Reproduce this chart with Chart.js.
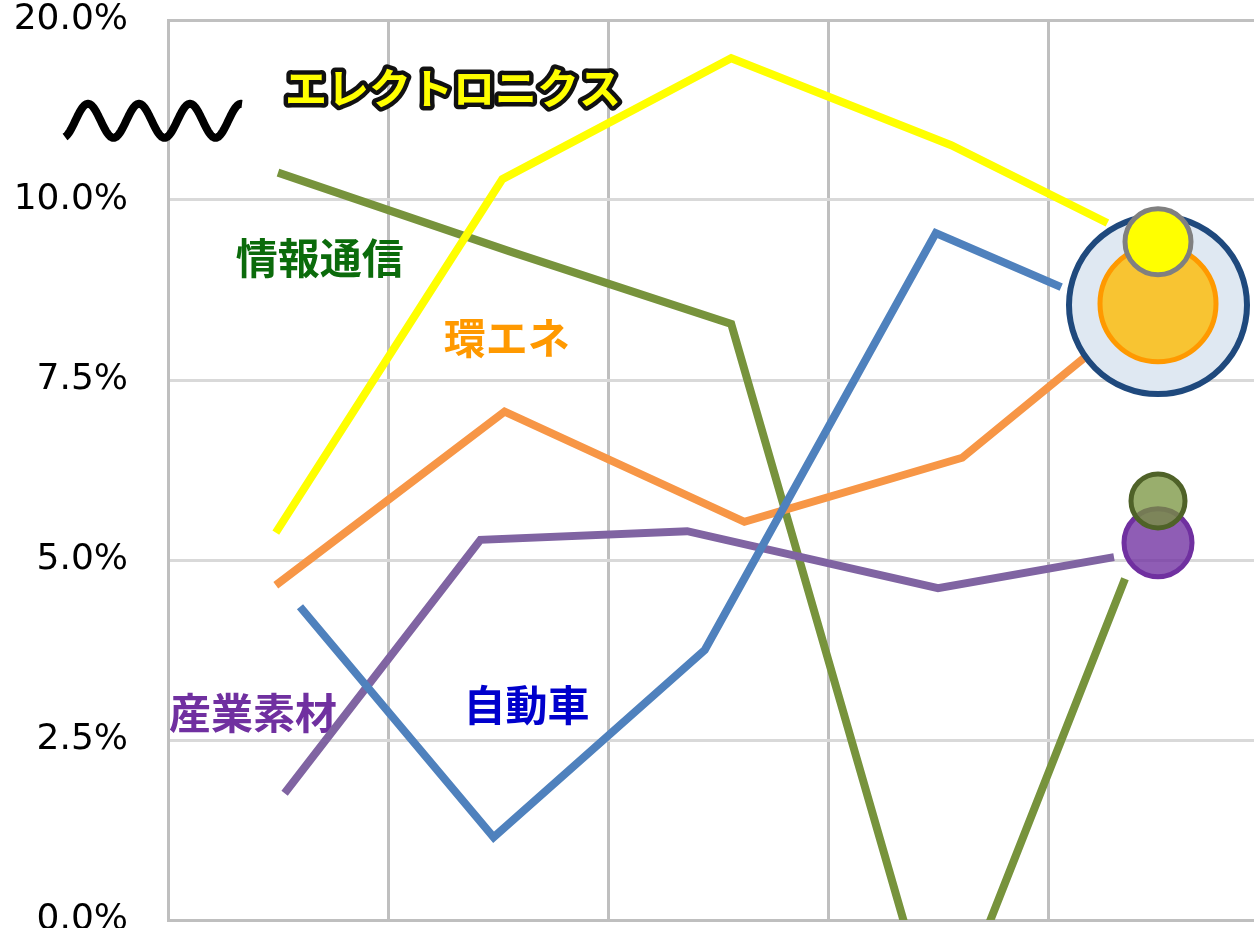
<!DOCTYPE html>
<html lang="ja">
<head>
<meta charset="utf-8">
<title>セクター別 成長率</title>
<script src="https://cdn.jsdelivr.net/npm/chart.js@4.4.1/dist/chart.umd.min.js"></script>
<style>
  html, body { margin: 0; padding: 0; background: #fff; }
</style>
</head>
<body>
<canvas id="graph" width="1254" height="928"></canvas>
<script>
// y axis is broken above 10%: the top gridline (12.5 on the scale) is labelled 20.0%
const yTickValues = [0, 2.5, 5, 7.5, 10, 12.5];
const yTickLabels = ['0.0%', '2.5%', '5.0%', '7.5%', '10.0%', '20.0%'];
const xGridValues = [0, 1, 2, 3, 4];

const electronicsX = [0.49, 1.52, 2.56, 3.56, 4.27];
const electronicsY = [5.38, 10.29, 11.97, 10.76, 9.68];

const telecomX = [0.50, 1.55, 2.56, 3.51, 4.35];
const telecomY = [10.38, 9.29, 8.28, -1.77, 4.74];

const autoX = [0.60, 1.48, 2.44, 3.49, 4.06];
const autoY = [4.35, 1.15, 3.75, 9.54, 8.79];

const energyX = [0.49, 1.53, 2.62, 3.61, 4.17];
const energyY = [4.65, 7.06, 5.53, 6.42, 7.82];

const materialsX = [0.53, 1.42, 2.36, 3.50, 4.30];
const materialsY = [1.76, 5.28, 5.40, 4.61, 5.04];

// latest-period bubbles
const bubbleX = 4.5;
const bubbleNames = ['全体', '環エネ', 'エレクトロニクス', '産業素材', '情報通信'];
const bubbleY = [8.54, 8.56, 9.42, 5.24, 5.82];
const bubbleR = [89, 58, 33, 34, 27];

const breakAt = 11.1;

const annotations = [
    { text: 'エレクトロニクス', x: 1.295, y: 11.56, color: '#ffff00', outline: '#111' },
    { text: '情報通信', x: 0.69, y: 9.19, color: '#0b6b0b' },
    { text: '環エネ', x: 1.54, y: 8.08, color: '#ff9900' },
    { text: '産業素材', x: 0.386, y: 2.875, color: '#7030a0' },
    { text: '自動車', x: 1.63, y: 2.99, color: '#0000cc' }
];

const pts = (xs, ys) => xs.map((x, i) => ({ x: x, y: ys[i] }));

function lineSet(label, xs, ys, color, order) {
    return {
        label: label,
        data: pts(xs, ys),
        borderColor: color,
        backgroundColor: color,
        borderWidth: 8,
        borderCapStyle: 'butt',
        showLine: true,
        pointRadius: 0,
        fill: false,
        clip: 0,
        order: order
    };
}

const bubbleStyles = [
    { bg: '#dfe8f2', border: '#1f497d', width: 6, order: 5 },
    { bg: '#f8c432', border: '#ff9900', width: 5, order: 4 },
    { bg: '#ffff00', border: '#808080', width: 5, order: 3 },
    { bg: 'rgba(112, 48, 160, 0.78)', border: '#7030a0', width: 5, order: 2 },
    { bg: 'rgba(119, 147, 60, 0.75)', border: '#4f6228', width: 5, order: 1 }
];

const bubbleSets = bubbleNames.map((name, i) => ({
    type: 'bubble',
    label: name,
    data: [{ x: bubbleX, y: bubbleY[i], r: bubbleR[i] }],
    backgroundColor: bubbleStyles[i].bg,
    borderColor: bubbleStyles[i].border,
    borderWidth: bubbleStyles[i].width,
    clip: false,
    order: bubbleStyles[i].order
}));

const axisBreak = {
    id: 'axisBreak',
    afterDatasetsDraw(chart) {
        const { ctx, chartArea, scales } = chart;
        const cy = scales.y.getPixelForValue(breakAt);
        const x0 = chartArea.left - 103;
        const x1 = chartArea.left + 74;
        const phase = chartArea.left - 92.75;
        ctx.save();
        ctx.beginPath();
        for (let x = x0; x <= x1; x += 1) {
            const y = cy - 17 * Math.sin(2 * Math.PI * (x - phase) / 51);
            if (x === x0) ctx.moveTo(x, y); else ctx.lineTo(x, y);
        }
        ctx.strokeStyle = '#000';
        ctx.lineWidth = 8;
        ctx.lineCap = 'butt';
        ctx.lineJoin = 'round';
        ctx.stroke();
        ctx.restore();
    }
};

const sectorLabels = {
    id: 'sectorLabels',
    beforeDatasetsDraw(chart) {
        const { ctx, scales } = chart;
        ctx.save();
        ctx.font = 'bold 42px "Noto Sans CJK JP"';
        ctx.textAlign = 'center';
        ctx.textBaseline = 'middle';
        annotations.forEach(a => {
            const px = scales.x.getPixelForValue(a.x);
            const py = scales.y.getPixelForValue(a.y);
            if (a.outline) {
                ctx.lineWidth = 9;
                ctx.lineJoin = 'round';
                ctx.strokeStyle = a.outline;
                ctx.strokeText(a.text, px, py);
            }
            ctx.fillStyle = a.color;
            ctx.fillText(a.text, px, py);
        });
        ctx.restore();
    }
};

const chart = new Chart(document.getElementById('graph'), {
    type: 'scatter',
    data: {
        datasets: [
            lineSet('自動車', autoX, autoY, '#4f81bd', 6),
            lineSet('エレクトロニクス', electronicsX, electronicsY, '#ffff00', 7),
            lineSet('産業素材', materialsX, materialsY, '#8064a2', 8),
            lineSet('環エネ', energyX, energyY, '#f79646', 9),
            lineSet('情報通信', telecomX, telecomY, '#77933c', 10),
            ...bubbleSets
        ]
    },
    options: {
        responsive: false,
        animation: false,
        devicePixelRatio: 1,
        events: [],
        layout: { autoPadding: false, padding: { top: 20, bottom: 8, left: 0, right: 0 } },
        plugins: {
            legend: { display: false },
            tooltip: { enabled: false }
        },
        scales: {
            x: {
                type: 'linear',
                min: 0,
                max: 1086 / 220,
                afterBuildTicks: (scale) => { scale.ticks = xGridValues.map(v => ({ value: v })); },
                afterFit: (scale) => { scale.height = 0; },
                ticks: { display: false },
                grid: { color: '#bfbfbf', lineWidth: 3, drawTicks: false },
                border: { display: true, color: '#bfbfbf', width: 3 }
            },
            y: {
                type: 'linear',
                min: 0,
                max: 12.5,
                afterBuildTicks: (scale) => { scale.ticks = yTickValues.map(v => ({ value: v })); },
                afterFit: (scale) => {
                    scale.width = 168;
                    // let the end labels hang over the plot edges
                    scale.paddingTop = 0;
                    scale.paddingBottom = 0;
                },
                ticks: {
                    padding: 40,
                    color: '#000',
                    font: { family: '"DejaVu Sans"', size: 36 },
                    callback: (value, index) => yTickLabels[index]
                },
                grid: {
                    color: (c) => (c.tick && c.tick.value === 12.5 ? '#c0c0c0' : '#d9d9d9'),
                    lineWidth: 3,
                    drawTicks: false
                },
                border: { display: true, color: '#bfbfbf', width: 3 }
            }
        }
    },
    plugins: [sectorLabels, axisBreak]
});
</script>
</body>
</html>
